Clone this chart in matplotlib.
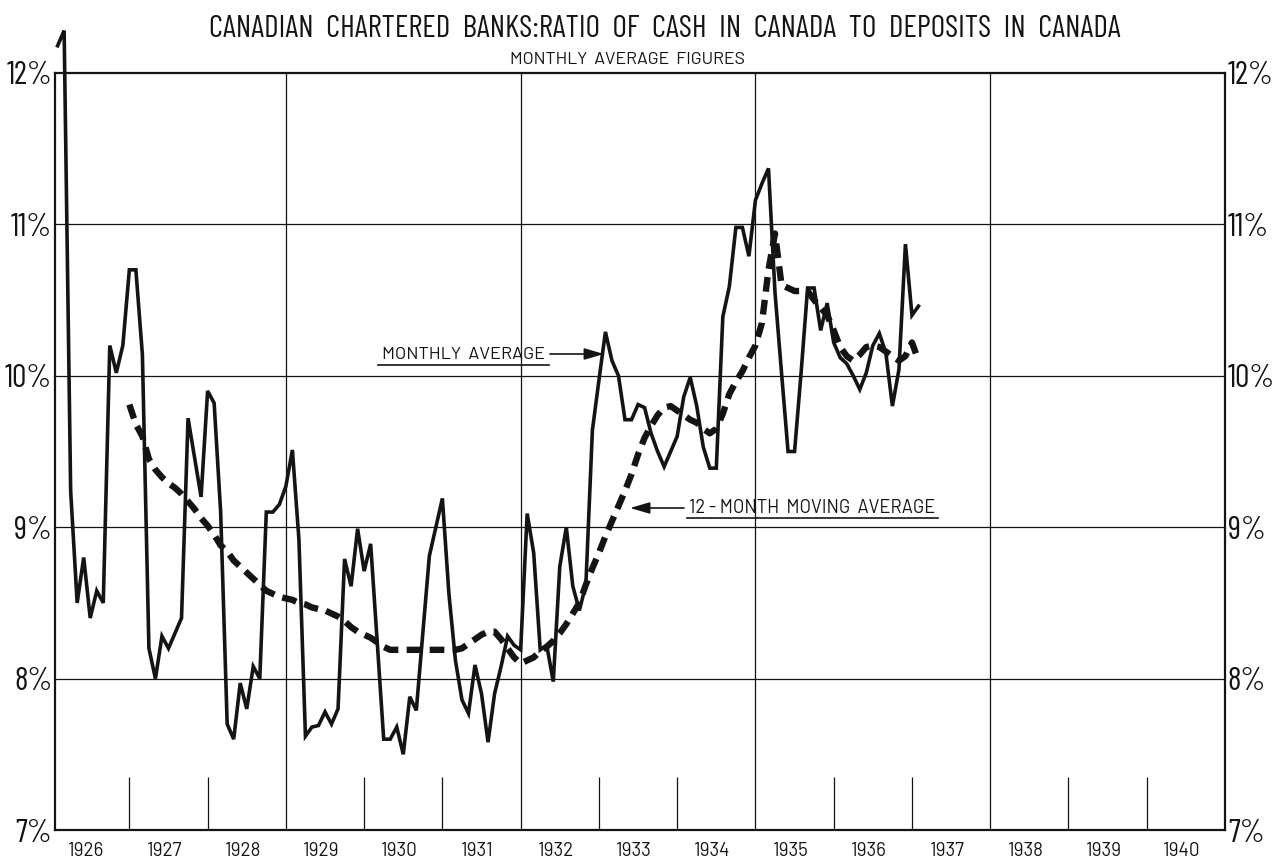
import matplotlib
matplotlib.use("Agg")
import matplotlib.pyplot as plt
from matplotlib import font_manager as fm

# ---------------- data ----------------
start_year = 1926          # first monthly value: January 1926
monthly_avg = [
    12.18, 12.28, 9.24, 8.50, 8.80, 8.40, 8.58, 8.50, 10.20, 10.02, 10.20, 10.70,   # 1926
    10.70, 10.14, 8.20, 8.00, 8.28, 8.20, 8.30, 8.40, 9.72, 9.46, 9.20, 9.90,       # 1927
    9.82, 9.10, 7.70, 7.60, 7.97, 7.80, 8.08, 8.00, 9.10, 9.10, 9.15, 9.27,         # 1928
    9.51, 8.92, 7.62, 7.68, 7.69, 7.78, 7.70, 7.80, 8.79, 8.61, 8.99, 8.71,         # 1929
    8.89, 8.25, 7.60, 7.60, 7.68, 7.50, 7.88, 7.79, 8.30, 8.81, 9.00, 9.19,         # 1930
    8.56, 8.12, 7.86, 7.77, 8.09, 7.90, 7.58, 7.90, 8.08, 8.28, 8.22, 8.19,         # 1931
    9.09, 8.83, 8.19, 8.22, 7.98, 8.74, 9.00, 8.61, 8.45, 8.62, 9.64, 9.97,         # 1932
    10.29, 10.10, 10.00, 9.71, 9.71, 9.81, 9.79, 9.62, 9.50, 9.40, 9.50, 9.60,      # 1933
    9.86, 9.99, 9.80, 9.53, 9.39, 9.39, 10.39, 10.59, 10.98, 10.98, 10.79, 11.16,   # 1934
    11.27, 11.37, 10.55, 10.02, 9.50, 9.50, 10.02, 10.58, 10.58, 10.30, 10.48, 10.22,  # 1935
    10.12, 10.08, 10.00, 9.91, 10.02, 10.20, 10.28, 10.15, 9.80, 10.04, 10.87, 10.40,  # 1936
    10.46,                                                                           # 1937
]
moving_avg_start = 11      # first 12-month average: December 1926
moving_avg = [
    9.81,                                                                            # 1926
    9.68, 9.60, 9.45, 9.38, 9.33, 9.29, 9.26, 9.22, 9.17, 9.12, 9.06, 9.01,         # 1927
    8.95, 8.88, 8.84, 8.78, 8.74, 8.70, 8.66, 8.62, 8.58, 8.56, 8.54, 8.53,         # 1928
    8.52, 8.50, 8.49, 8.47, 8.46, 8.45, 8.43, 8.41, 8.38, 8.34, 8.31, 8.29,         # 1929
    8.27, 8.24, 8.21, 8.19, 8.19, 8.19, 8.19, 8.19, 8.19, 8.19, 8.19, 8.19,         # 1930
    8.19, 8.19, 8.20, 8.23, 8.26, 8.29, 8.31, 8.31, 8.26, 8.20, 8.14, 8.10,         # 1931
    8.12, 8.14, 8.18, 8.21, 8.25, 8.30, 8.36, 8.43, 8.50, 8.62, 8.73, 8.83,         # 1932
    8.94, 9.04, 9.14, 9.24, 9.35, 9.48, 9.59, 9.67, 9.74, 9.79, 9.80, 9.77,         # 1933
    9.74, 9.71, 9.69, 9.65, 9.62, 9.65, 9.75, 9.88, 9.96, 10.03, 10.12, 10.20,      # 1934
    10.35, 10.70, 10.94, 10.60, 10.58, 10.56, 10.56, 10.56, 10.50, 10.45, 10.40, 10.30,  # 1935
    10.19, 10.13, 10.10, 10.14, 10.19, 10.20, 10.19, 10.16, 10.13, 10.10, 10.13, 10.22,  # 1936
    10.10,                                                                           # 1937
]
years = list(range(1926, 1941))
year_labels = [str(y) for y in years]
pct_ticks = [7, 8, 9, 10, 11, 12]
pct_labels = [f"{p}%" for p in pct_ticks]
grid_years = [1929, 1932, 1935, 1938]

title = "CANADIAN  CHARTERED  BANKS:RATIO  OF  CASH  IN  CANADA  TO  DEPOSITS  IN  CANADA"
subtitle = "MONTHLY  AVERAGE  FIGURES"
label_monthly = "MONTHLY  AVERAGE"
label_moving = "12 - MONTH  MOVING  AVERAGE"

# ---------------- style ----------------
installed = {f.name for f in fm.fontManager.ttflist}
COND = [n for n in ["Barlow Condensed", "Archivo Narrow", "Asap Condensed"] if n in installed][:1] + ["DejaVu Sans"]
REG = [n for n in ["Barlow", "Lato", "Open Sans"] if n in installed][:1] + ["DejaVu Sans"]
plt.rcParams["font.family"] = COND
INK = "#141414"

W, H = 1284, 860
fig = plt.figure(figsize=(W / 100, H / 100), dpi=100)
fig.patch.set_facecolor("white")

left_px, right_px, top_px, bottom_px = 55, 1225, 73, 830
ax = fig.add_axes([left_px / W, 1 - bottom_px / H,
                   (right_px - left_px) / W, (bottom_px - top_px) / H])
ax.set_xlim(1926.05, 1941.0)
ax.set_ylim(7, 12)

for s in ax.spines.values():
    s.set_linewidth(1.6)
    s.set_color(INK)

for p in pct_ticks[1:-1]:
    ax.axhline(p, color=INK, lw=0.9, zorder=1)
for g in grid_years:
    ax.axvline(g, color=INK, lw=0.9, zorder=1)
short = [y for y in years[1:] if y not in grid_years]
ax.vlines(short, 7, 7.35, color=INK, lw=0.9, zorder=1)

ax.set_xticks([y + 0.45 for y in years])
ax.set_xticklabels(year_labels, fontsize=13.5, color=INK, family=REG)
ax.tick_params(axis="x", length=0, pad=9)

ax.set_yticks(pct_ticks)
ax.set_yticklabels(pct_labels, fontsize=23, color=INK)
ax.tick_params(axis="y", length=0, pad=2, labelright=True, labelleft=True)

t_m = [start_year + (i + 1) / 12 for i in range(len(monthly_avg))]
t_a = [start_year + (moving_avg_start + i + 1) / 12 for i in range(len(moving_avg))]

ax.plot(t_m, monthly_avg, color=INK, lw=2.6, solid_joinstyle="miter",
        zorder=3, clip_on=False)
ax.plot(t_a, moving_avg, color=INK, lw=4.6, linestyle=(0, (2.3, 1.3)),
        dash_capstyle="butt", zorder=4)

fig.text(665 / W, 1 - 29 / H, title, ha="center", va="center",
         fontsize=22.5, color=INK)
fig.text(627 / W, 1 - 59 / H, subtitle, ha="center", va="center",
         fontsize=12.8, color=INK, family=REG)

def px2data(px, py):
    x = 1926 + (px - 51) / 78.27
    y = 12 - (py - 73) / 151.4
    return x, y

tx, ty = px2data(464, 354)
ax.text(tx, ty, label_monthly, ha="center", va="center", fontsize=13,
        color=INK, family=REG)
ux0, uy = px2data(378, 365)
ux1, _ = px2data(549, 365)
ax.plot([ux0, ux1], [uy, uy], color=INK, lw=1.2)
a0 = px2data(550, 354)
a1 = px2data(604, 354)
ax.annotate("", xy=a1, xytext=a0,
            arrowprops=dict(arrowstyle="-|>,head_length=1.2,head_width=0.35",
                            color=INK, lw=1.2, shrinkA=0, shrinkB=0))

tx, ty = px2data(812, 508)
ax.text(tx, ty, label_moving, ha="center", va="center", fontsize=13.2,
        color=INK, family=REG)
ux0, uy = px2data(687, 518)
ux1, _ = px2data(938, 518)
ax.plot([ux0, ux1], [uy, uy], color=INK, lw=1.2)
a0 = px2data(684, 508)
a1 = px2data(630, 508)
ax.annotate("", xy=a1, xytext=a0,
            arrowprops=dict(arrowstyle="-|>,head_length=1.2,head_width=0.35",
                            color=INK, lw=1.2, shrinkA=0, shrinkB=0))

fig.savefig("out.png", dpi=100, facecolor="white")
